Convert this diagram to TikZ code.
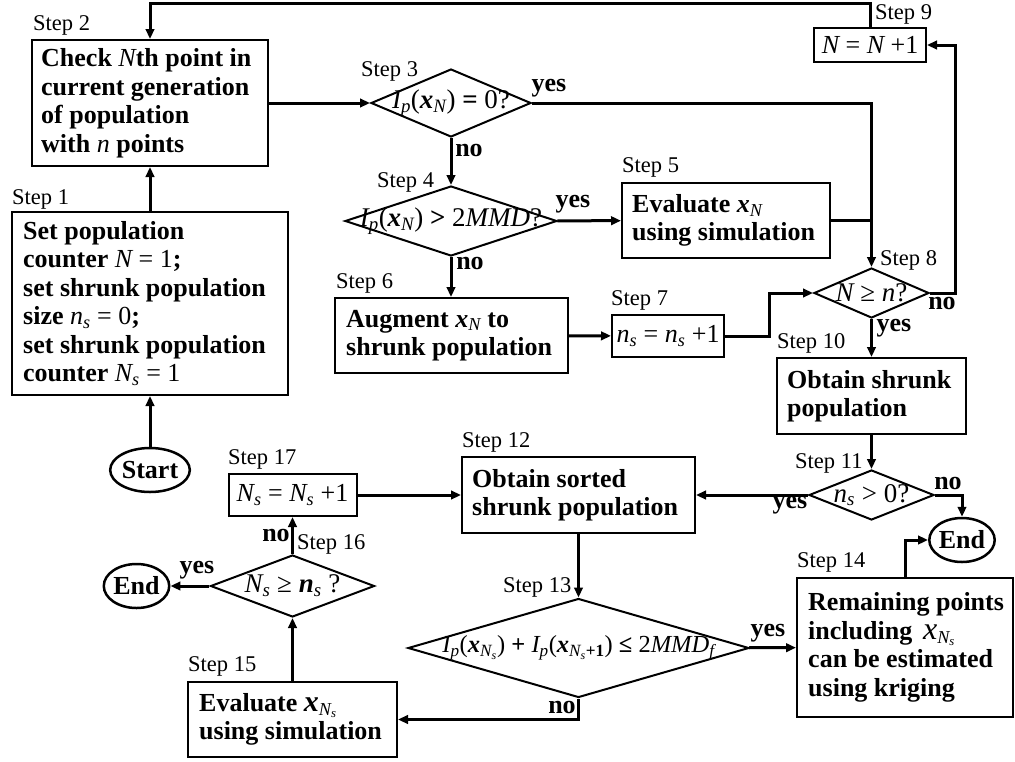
\documentclass[tikz,border=0pt]{standalone}
\usepackage{fontspec}
\setmainfont{Liberation Serif}
\usetikzlibrary{arrows.meta,shapes.geometric}

% italic variable (regular weight), bold italic variable, subscript
\newcommand\iv[1]{{\mdseries\itshape #1}}
\newcommand\bv[1]{{\bfseries\itshape #1}}
\newcommand\sub[1]{\textsubscript{#1}}

\tikzset{
  frame/.style={draw, line width=2pt, inner sep=0pt},
  btext/.style={anchor=west, inner sep=0pt, align=left,
    font=\fontsize{26}{28.5}\selectfont\bfseries},
  eqbox/.style={draw, line width=2pt, font=\fontsize{26}{30}\selectfont, inner sep=0pt},
  dia/.style={draw, diamond, line width=2pt, inner sep=0pt},
  term/.style={draw, ellipse, line width=2.5pt, inner sep=0pt,
    font=\fontsize{26}{28}\selectfont\bfseries},
  steplbl/.style={anchor=west, inner sep=0pt, font=\fontsize{22.5}{24}\selectfont},
  yn/.style={inner sep=0pt, font=\fontsize{26}{28}\selectfont\bfseries},
  dtext/.style={inner sep=0pt, font=\fontsize{27}{29}\selectfont},
  flow/.style={line width=3pt},
  arr/.style={flow, -{Triangle[length=10pt,width=8.5pt]}},
}

\begin{document}
\begin{tikzpicture}[x=1pt,y=-1pt]
\useasboundingbox (0,0) rectangle (1015,761);

% ---------- process boxes (frame, then its text) ----------
\node[frame, minimum width=276pt, minimum height=183pt] (s1) at (150,303.5) {};
\node[btext] (t1) at ([xshift=12pt]s1.west)
  {Set population\\
   counter {\mdseries\iv{N} = 1};\\
   set shrunk population\\
   size {\mdseries\iv{n}\sub{\iv{s}} = 0};\\
   set shrunk population\\
   counter {\mdseries\iv{N}\sub{\iv{s}} = 1}};
\node[frame, minimum width=236pt, minimum height=126pt] (s2) at (150,103) {};
\node[btext] (t2) at ([xshift=10pt]s2.west)
  {Check \iv{N}th point in\\ current generation\\ of population\\ with \iv{n} points};
\node[frame, minimum width=208pt, minimum height=75pt] (s5) at (726,220.5) {};
\node[btext] (t5) at ([xshift=11pt]s5.west)
  {Evaluate \bv{x}\sub{\iv{N}}\\ using simulation};
\node[frame, minimum width=233pt, minimum height=75pt] (s6) at (451.5,335.5) {};
\node[btext] (t6) at ([xshift=12pt]s6.west)
  {Augment \bv{x}\sub{\iv{N}} to\\ shrunk population};
\node[eqbox, minimum width=112pt, minimum height=42pt] (s7) at (668,336)
  {\iv{n}\sub{\iv{s}} = \iv{n}\sub{\iv{s}} +1};
\node[eqbox, minimum width=112pt, minimum height=34pt] (s9) at (870,45)
  {\iv{N} = \iv{N} +1};
\node[frame, minimum width=189pt, minimum height=76pt] (s10) at (871.5,396) {};
\node[btext] (t10) at ([xshift=11pt]s10.west)
  {Obtain shrunk\\ population};
\node[frame, minimum width=233pt, minimum height=76pt] (s12) at (578.5,495) {};
\node[btext] (t12) at ([xshift=11pt]s12.west)
  {Obtain sorted\\ shrunk population};
\node[frame, minimum width=216pt, minimum height=139pt] (s14) at (905,647.5) {};
\node[btext] (t14) at ([xshift=12pt]s14.west)
  {Remaining points\\ including \,{\fontsize{32}{28}\selectfont\iv{x}}\sub{\iv{N}\sub{\iv{s}}}\\
   can be estimated\\ using kriging};
\node[frame, minimum width=209pt, minimum height=75pt] (s15) at (292.5,719.5) {};
\node[btext] (t15) at ([xshift=12pt]s15.west)
  {Evaluate {\fontsize{30}{28}\selectfont\bv{x}}\sub{\iv{N}\sub{\iv{s}}}\\ using simulation};
\node[eqbox, minimum width=128pt, minimum height=42pt] (s17) at (292.5,495)
  {\iv{N}\sub{\iv{s}} = \iv{N}\sub{\iv{s}} +1};

% ---------- decisions ----------
\node[dia, minimum width=160pt, minimum height=68pt] (d3) at (451,103) {};
\node[dtext] (q3) at (d3) {\iv{I}\sub{\iv{p}}(\bv{x}\sub{\iv{N}}) \textbf{=} 0?};
\node[dia, minimum width=212pt, minimum height=70pt] (d4) at (451,221) {};
\node[dtext] (q4) at (d4) {\iv{I}\sub{\iv{p}}(\bv{x}\sub{\iv{N}}) \textbf{>} 2\iv{MMD}?};
\node[dia, minimum width=115pt, minimum height=50pt] (d8) at (871.5,293) {};
\node[dtext] (q8) at (d8) {\iv{N} ≥ \iv{n}?};
\node[dia, minimum width=125pt, minimum height=50pt] (d11) at (871.5,495) {};
\node[dtext] (q11) at (d11) {\iv{n}\sub{\iv{s}} > 0?};
\node[dia, minimum width=341pt, minimum height=99pt] (d13) at (578.5,648) {};
\node[dtext, font=\fontsize{24.5}{26}\selectfont] (q13) at (d13)
  {\iv{I}\sub{\iv{p}}(\bv{x}\sub{\iv{N}\sub{\iv{s}}}) \textbf{+} \iv{I}\sub{\iv{p}}(\bv{x}\sub{\iv{N}\sub{\iv{s}}\textbf{+1}}) \textbf{≤} 2\iv{MMD}\sub{\iv{f}}};
\node[dia, minimum width=164pt, minimum height=62pt] (d16) at (292.5,586) {};
\node[dtext] (q16) at (d16) {\iv{N}\sub{\iv{s}} ≥ \bv{n}\sub{\iv{s}} ?};

% ---------- terminals ----------
\node[term, minimum width=70pt, minimum height=44pt] (start) at (150,470) {Start};
\node[term, minimum width=60pt, minimum height=44pt] (end1) at (962,540) {End};
\node[term, minimum width=63pt, minimum height=44pt] (end2) at (136.5,586) {End};

% ---------- step labels ----------
\node[steplbl] (l1) at (12,199) {Step 1};
\node[steplbl] (l2) at (33,25) {Step 2};
\node[steplbl] (l3) at (361,71) {Step 3};
\node[steplbl] (l4) at (377,182) {Step 4};
\node[steplbl] (l5) at (622,167) {Step 5};
\node[steplbl] (l6) at (336,283) {Step 6};
\node[steplbl] (l7) at (611,300) {Step 7};
\node[steplbl] (l8) at (880,260) {Step 8};
\node[steplbl] (l9) at (875,14) {Step 9};
\node[steplbl] (l10) at (777,343) {Step 10};
\node[steplbl] (l11) at (795,463) {Step 11};
\node[steplbl] (l12) at (462,442) {Step 12};
\node[steplbl] (l13) at (503,587) {Step 13};
\node[steplbl] (l14) at (797,562) {Step 14};
\node[steplbl] (l15) at (188,666) {Step 15};
\node[steplbl] (l16) at (297,544) {Step 16};
\node[steplbl] (l17) at (228,459) {Step 17};

% ---------- connectors ----------
\coordinate (top) at (870,3);
\coordinate (j7) at (769,336);
\coordinate (j8) at (955,293);

\draw[arr] (start) -- (s1);
\draw[arr] (s1) -- (s2);
\draw[arr] (s2) -- (d3);
\draw[arr] (d3) -- (d4);
\draw[arr] (d4.south) -- (d4.south |- s6.north);
\draw[arr] (d4) -- (s5);
\draw[arr] (s6) -- (s7);
\draw[arr] (s7.east) -- (j7) |- (d8.west);
\draw[arr] (d3.east) -| (d8.north);
\draw[flow] (s5.east) -- (s5.east -| d8.north);
\draw[arr] (d8.east) -- (j8) |- (s9.east);
\draw[arr] (s9.north) -- (top) -| (s2.north);
\draw[arr] (d8) -- (s10);
\draw[arr] (s10) -- (d11);
\draw[arr] (d11.east) -| (end1.north);
\draw[arr] (d11) -- (s12);
\draw[arr] (s12) -- (d13);
\draw[arr] (d13) -- (s14);
\draw[arr] (s14.north) |- (end1.west);
\draw[arr] (d13.south) |- (s15.east);
\draw[arr] (s15) -- (d16);
\draw[arr] (d16) -- (s17);
\draw[arr] (d16) -- (end2);
\draw[arr] (s17) -- (s12);

% ---------- branch labels ----------
\node[yn] (y3) at (549,88) {yes};
\node[yn] (n3) at (469,150) {no};
\node[yn] (y4) at (573,204) {yes};
\node[yn] (n4) at (470,263) {no};
\node[yn] (y8) at (894,328) {yes};
\node[yn] (n8) at (942,303) {no};
\node[yn] (n11) at (948,483) {no};
\node[yn] (y11) at (790,505) {yes};
\node[yn] (y13) at (768,633) {yes};
\node[yn] (n13) at (562,707) {no};
\node[yn] (n16) at (276,535) {no};
\node[yn] (y16) at (197,570) {yes};
\end{tikzpicture}
\end{document}
